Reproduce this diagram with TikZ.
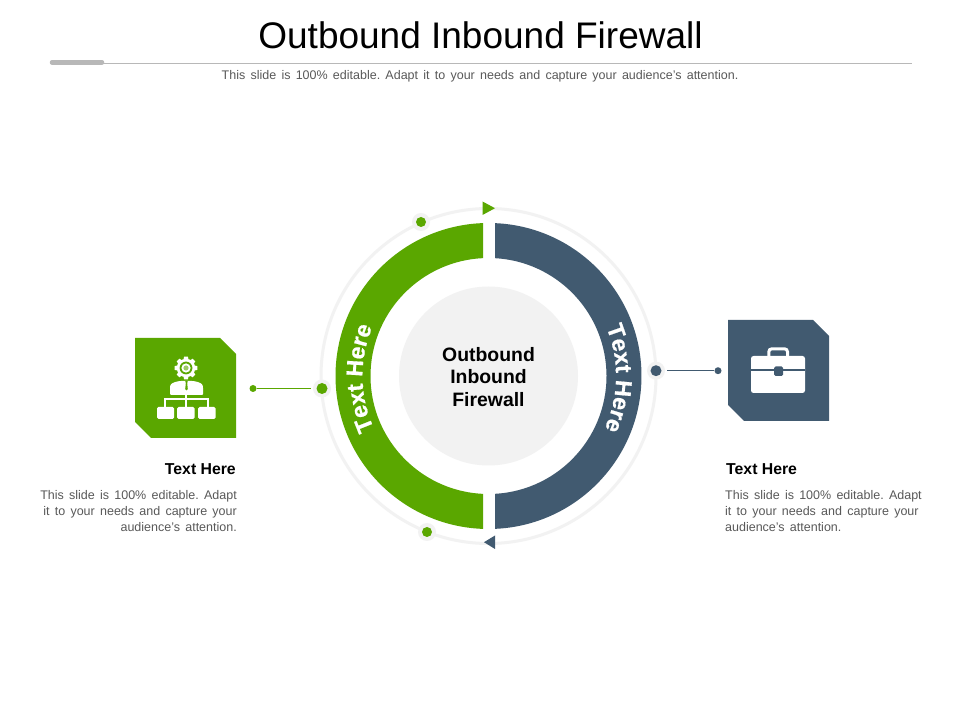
\documentclass[tikz,border=0pt]{standalone}
\usepackage{fontspec}
\setmainfont{Liberation Sans}
\newfontfamily\heavy[BoldFeatures={FakeBold=0.7}]{Liberation Sans}
\usetikzlibrary{decorations.text}
\definecolor{gr}{HTML}{5AA700}
\definecolor{bl}{HTML}{415A70}
\definecolor{pale}{HTML}{F2F2F2}
\definecolor{bodytx}{HTML}{595959}
\definecolor{rulegray}{HTML}{B8B8B8}
\newcommand{\bodyfnt}{\fontsize{12.5}{16}\selectfont\frenchspacing\spaceskip=5.25pt\relax}
\tikzset{
  x=1pt,y=1pt,
  halo/.style={circle,fill=pale,minimum size=18pt,inner sep=0pt,outer sep=2pt},
  dotg/.style={circle,fill=gr,minimum size=11pt,inner sep=0pt},
  dotb/.style={circle,fill=bl,minimum size=11pt,inner sep=0pt},
  enddot/.style={circle,minimum size=7pt,inner sep=0pt},
  bodytext/.style={text=bodytx,font=\bodyfnt,inner sep=0pt},
  headtext/.style={text=black,font=\fontsize{15.8}{18}\selectfont\bfseries,inner sep=0pt},
  curved/.style={decorate,decoration={text along path,text align=center,
     text={|\fontsize{23}{25}\selectfont\heavy\bfseries\color{white}|Text Here}}}
}
\begin{document}
\begin{tikzpicture}
\useasboundingbox (0,0) rectangle (960,720);
\fill[white] (0,0) rectangle (960,720);
% header
\node[inner sep=0pt,font=\fontsize{37}{41}\selectfont] (title) at (480.5,685) {Outbound Inbound Firewall};
\coordinate (ruleL) at (50,656.7);
\coordinate (ruleR) at (912,656.7);
\coordinate (barL) at (52,657.7);
\coordinate (barR) at (102,657.7);
\draw[color=rulegray,line width=1pt] (ruleL) -- (ruleR);
\draw[color=rulegray,line width=4.5pt,line cap=round] (barL) -- (barR);
\node[bodytext] (sub) at (480,643.7) {This slide is 100\% editable. Adapt it to your needs and capture your audience's attention.};
% rings
\coordinate (c) at (488.5,344);
\draw[pale,line width=3pt] (c) circle (167.5);
\fill[pale] (c) circle (89.5);
\fill[gr,shift={(c)}] (92.06:153) arc (92.06:267.94:153) -- (267.33:118) arc (267.33:92.67:118) -- cycle;
\fill[bl,shift={(c)}] (87.565:153) arc (87.565:-87.565:153) -- (-86.84:118) arc (-86.84:86.84:118) -- cycle;
\path[curved,shift={(c)}] (231:126) arc (231:131:126);
\path[curved,shift={(c)}] (49:127.5) arc (49:-51:127.5);
\node[inner sep=0pt,align=center,font=\fontsize{19.4}{22.5}\selectfont\bfseries] (centre) at (488.5,343) {Outbound\\Inbound\\Firewall};
% markers on ring
\node[halo] (h1) at (421,498) {}; \node[dotg,minimum size=10pt] at (h1) {};
\node[halo] (h2) at (427,188) {}; \node[dotg,minimum size=10pt] at (h2) {};
\node[halo] (h3) at (322,331.5) {}; \node[dotg] at (h3) {};
\node[halo] (h4) at (656,349.3) {}; \node[dotb] at (h4) {};
\fill[gr] (482.5,518.5) -- (495,511.8) -- (482.5,505) -- cycle;
\fill[bl] (495,184.5) -- (484,177.8) -- (495,171) -- cycle;
% connectors
\node[enddot,fill=gr] (e1) at (253,331.5) {};
\node[enddot,fill=bl] (e2) at (718,349.3) {};
\draw[gr,line width=1.2pt] (e1) -- (h3);
\draw[bl,line width=1.2pt] (e2) -- (h4);
% green tile
\fill[gr] (135,382) -- (220,382) -- (236,366) -- (236,282) -- (151,282) -- (135,298) -- cycle;
\begin{scope}[shift={(186,352)}]
  \fill[white] foreach \a in {0,45,...,315} {[rotate=\a] (-2.8,7) -- (-1.9,11.3) -- (1.9,11.3) -- (2.8,7) -- cycle};
  \fill[white] (0,0) circle (9.2);
  \fill[gr] (0,0) circle (6.4);
  \fill[white] (0,0) circle (4.6);
  \fill[gr!60!white] (0,0) circle (2.6);
\end{scope}
\fill[white,rounded corners=1pt] (170,325) -- (170,333) .. controls (170.5,336.5) and (174,338) .. (180,339) -- (193,339) .. controls (199,338) and (202.5,336.5) .. (203,333) -- (203,325) -- cycle;
\fill[gr] (185.3,339) -- (187.7,339) -- (187.2,336.5) -- (187.8,331) -- (186.5,329.5) -- (185.2,331) -- (185.8,336.5) -- cycle;
\draw[white,line width=1.5pt] (165,313) -- (165,321) -- (208,321) -- (208,313);
\draw[white,line width=1.5pt] (186,325) -- (186,313);
\fill[white,rounded corners=1.5pt] (157,313) rectangle (174,301);
\fill[white,rounded corners=1.5pt] (177,313) rectangle (194.5,301);
\fill[white,rounded corners=1.5pt] (198,313) rectangle (215.5,301);
% blue tile
\fill[bl] (728,400) -- (813,400) -- (829,384) -- (829,299) -- (744,299) -- (728,315) -- cycle;
\draw[white,line width=3pt,rounded corners=3pt] (768.8,362) -- (768.8,371.2) -- (787.5,371.2) -- (787.5,362);
\fill[white,rounded corners=2.5pt] (751,364) rectangle (805,327);
\draw[bl,line width=2.6pt] (751,350) -- (805,350);
\fill[bl,rounded corners=1.5pt] (774,353.5) rectangle (783,344);
% side texts
\node[headtext,anchor=east] (lh) at (236,250.5) {Text Here};
\node[headtext,anchor=west] (rh) at (726,250.5) {Text Here};
\node[bodytext,anchor=north east,align=right] (lb) at (237,229.3) {This slide is 100\% editable. Adapt\\it to your needs and capture your\\audience's attention.};
\node[bodytext,anchor=north west,align=left] (rb) at (725,229.3) {This slide is 100\% editable. Adapt\\it to your needs and capture your\\audience's attention.};
\end{tikzpicture}
\end{document}
